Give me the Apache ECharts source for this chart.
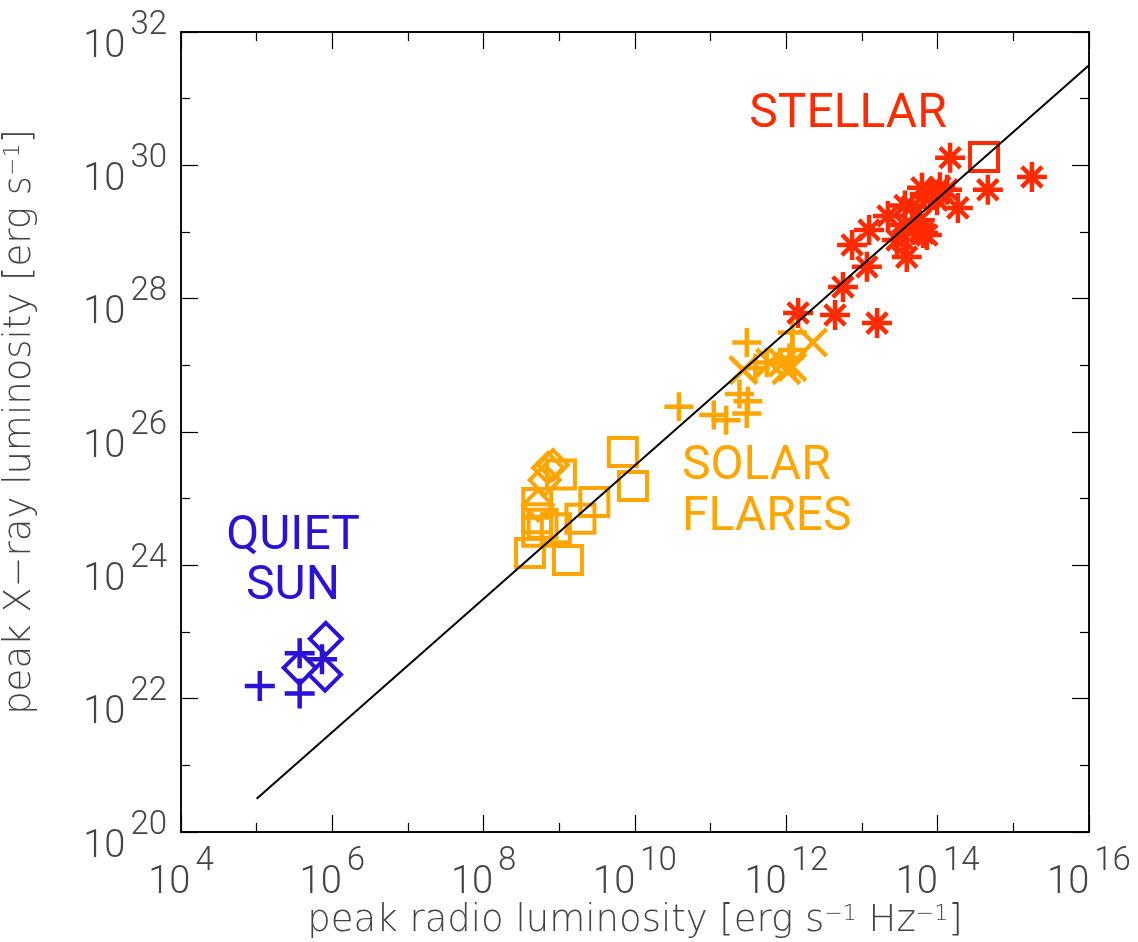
<!DOCTYPE html>
<html>
<head>
<meta charset="utf-8">
<script src="https://cdn.jsdelivr.net/npm/echarts@6/dist/echarts.min.js"></script>
<style>
html, body { margin: 0; padding: 0; background: #fff; }
#chart { width: 1138px; height: 942px; }
</style>
</head>
<body>
<div id="chart"></div>
<script>
// tick positions (decades)
const majorX = [1e4, 1e6, 1e8, 1e10, 1e12, 1e14, 1e16];
const minorX = [1e5, 1e7, 1e9, 1e11, 1e13, 1e15];
const majorY = [1e20, 1e22, 1e24, 1e26, 1e28, 1e30, 1e32];
const minorY = [1e21, 1e23, 1e25, 1e27, 1e29, 1e31];

// [radio, x-ray] peak luminosities
const quietPlus = [[1.1e5, 1.55e22], [3.7e5, 4.8e22], [3.7e5, 1.2e22], [7.3e5, 3.9e22]];
const quietDiamond = [[8.2e5, 7.9e22], [3.7e5, 2.9e22], [8.0e5, 2.3e22]];

const flareSquare = [[6.9e9, 5.0e25], [9.4e9, 1.55e25], [2.9e9, 8.9e24], [1.9e9, 5.0e24],
	[4.1e8, 1.53e24], [1.3e9, 1.2e24], [1.05e9, 2.3e25], [9.0e8, 3.6e24],
	[5.1e8, 8.6e24], [5.1e8, 5.1e24], [5.1e8, 3.2e24], [6.0e8, 4.2e24]];
const flareDiamond = [[7.1e8, 2.9e25], [6.4e8, 1.9e25], [5.2e8, 8.0e24], [8.2e8, 3.2e25]];
const flarePlus = [[3.0e11, 2.2e27], [3.8e10, 2.4e26], [1.1e11, 1.8e26], [1.6e11, 1.5e26],
	[2.4e11, 3.7e26], [3.1e11, 2.9e26], [3.0e11, 1.9e26], [1.2e12, 3.1e27],
	[1.2e12, 1.7e27], [3.9e11, 9.1e26], [5.5e11, 1.1e27], [1.1e12, 1.3e27]];
const flareCross = [[2.7e11, 8.5e26], [6.1e11, 1.1e27], [9.0e11, 1.1e27], [1.2e12, 9.4e26],
	[2.25e12, 2.2e27], [1.0e12, 8.5e26]];

const stellarStar = [[1.43e12, 6.1e27], [4.4e12, 5.7e27], [1.58e13, 4.3e27], [5.6e12, 1.5e28],
	[1.16e13, 3.0e28], [7.4e12, 6.4e28], [1.24e13, 1.07e29], [2.2e13, 1.74e29],
	[3.7e13, 2.5e29], [3.9e13, 4.2e28], [3.5e13, 7.6e28], [4.7e13, 1.07e29],
	[6.4e13, 9.7e28], [5.8e13, 1.5e29], [4.6e13, 2.4e29], [6.2e13, 4.6e29],
	[7.9e13, 3.35e29], [9.8e13, 3.0e29], [1.07e14, 4.7e29], [1.33e14, 4.3e29],
	[1.85e14, 2.3e29], [1.46e14, 1.3e30], [4.6e14, 4.3e29], [1.76e15, 6.7e29],
	[8.7e13, 3.6e29], [7.2e13, 9.0e28], [2.9e13, 7.6e28], [3.7e13, 1.27e29]];
const stellarSquare = [[4.1e14, 1.33e30]];

// L_X / L_R = 10^15.5
const relation = [[1e5, 3.16e20], [1e16, 3.16e31]];

const BLUE = '#2a12d6';
const ORANGE = '#ffa500';
const RED = '#ff2a00';
const FONT = 'Roboto, "Liberation Sans", sans-serif';
const TITLE_FONT = '"DejaVu Sans ExtraLight", "DejaVu Sans", sans-serif';
const GREY = '#444';

const PLUS = 'path://M5,0L5,10M0,5L10,5';
const CROSS = 'path://M0,0L10,10M10,0L0,10';
const STAR = 'path://M5,0L5,10M0,5L10,5M1.6,1.6L8.4,8.4M8.4,1.6L1.6,8.4';
const DIAMOND = 'path://M5,0L10,5L5,10L0,5Z';
const SQUARE = 'path://M0,0L10,0L10,10L0,10Z';

function powLabel(v) {
	return '{b|10}{s|' + Math.round(Math.log10(v)) + '}';
}
const labelRich = {
	b: { fontSize: 38, fontFamily: FONT, fontWeight: 300, color: GREY, lineHeight: 46, verticalAlign: 'bottom' },
	s: { fontSize: 33, fontFamily: FONT, fontWeight: 300, color: GREY, lineHeight: 30, verticalAlign: 'bottom', padding: [0, 0, 24, 5] }
};
const nameRich = {
	s: { fontSize: 22, fontFamily: TITLE_FONT, fontWeight: 200, color: GREY, lineHeight: 12, verticalAlign: 'top' }
};

function axis(dir, pos, ticks, len, main) {
	const a = {
		type: 'log',
		logBase: 10,
		position: pos,
		min: dir === 'x' ? 1e4 : 1e20,
		max: dir === 'x' ? 1e16 : 1e32,
		splitLine: { show: false },
		axisLine: { show: true, onZero: false, lineStyle: { color: '#000', width: 1.5 } },
		axisTick: { show: true, inside: true, length: len, customValues: ticks, lineStyle: { color: '#000', width: 1.2 } },
		axisLabel: { show: false }
	};
	if (main) {
		a.axisLabel = {
			show: true,
			customValues: ticks,
			formatter: powLabel,
			rich: labelRich,
			margin: dir === 'x' ? 24 : 14,
			padding: dir === 'x' ? 0 : [22, 0, 0, 0]
		};
	}
	return a;
}

const chart = echarts.init(document.getElementById('chart'));

const xMain = axis('x', 'bottom', majorX, 17, true);
xMain.name = 'peak radio luminosity [erg s{s|−1} Hz{s|−1}]';
xMain.nameLocation = 'middle';
xMain.nameGap = 71;
xMain.nameMoveOverlap = false;
xMain.nameTextStyle = { fontSize: 37, fontFamily: TITLE_FONT, fontWeight: 200, color: GREY, rich: nameRich };

const yMain = axis('y', 'left', majorY, 17, true);
yMain.name = 'peak X−ray luminosity [erg s{s|−1}]';
yMain.nameLocation = 'middle';
yMain.nameGap = 142;
yMain.nameTextStyle = { fontSize: 37, fontFamily: TITLE_FONT, fontWeight: 200, color: GREY, rich: nameRich, padding: [0, 0, 0, 20] };

function marks(name, data, symbol, size, color, width) {
	return {
		name: name,
		type: 'scatter',
		data: data,
		symbol: symbol,
		symbolSize: size,
		silent: true,
		itemStyle: { color: 'rgba(0,0,0,0)', borderColor: color, borderWidth: width, opacity: 1 }
	};
}

chart.setOption({
	animation: false,
	grid: { left: 181, top: 32, width: 908, height: 800, containLabel: false, outerBoundsMode: 'none' },
	xAxis: [
		xMain,
		axis('x', 'bottom', minorX, 9, false),
		axis('x', 'top', majorX, 17, false),
		axis('x', 'top', minorX, 9, false)
	],
	yAxis: [
		yMain,
		axis('y', 'left', minorY, 9, false),
		axis('y', 'right', majorY, 17, false),
		axis('y', 'right', minorY, 9, false)
	],
	series: [
		marks('quiet +', quietPlus, PLUS, 30, BLUE, 4.5),
		marks('quiet diamond', quietDiamond, DIAMOND, 32, BLUE, 4),
		marks('flare square', flareSquare, SQUARE, 28, ORANGE, 4),
		marks('flare diamond', flareDiamond, DIAMOND, 30, ORANGE, 4),
		marks('flare +', flarePlus, PLUS, 29, ORANGE, 4.5),
		marks('flare x', flareCross, CROSS, 27, ORANGE, 4.5),
		marks('stellar *', stellarStar, STAR, 30, RED, 4.5),
		marks('stellar square', stellarSquare, SQUARE, 28, RED, 4),
		{
			type: 'line',
			data: relation,
			symbol: 'none',
			silent: true,
			z: 5,
			lineStyle: { color: '#000', width: 2 }
		}
	],
	graphic: [
		{ type: 'text', x: 848, y: 115, style: { text: 'STELLAR', fill: RED, fontSize: 48, fontFamily: FONT, textAlign: 'center', textVerticalAlign: 'middle' } },
		{ type: 'text', x: 682, y: 492, style: { text: 'SOLAR\nFLARES', fill: ORANGE, fontSize: 48, fontFamily: FONT, lineHeight: 51, textAlign: 'left', textVerticalAlign: 'middle' } },
		{ type: 'text', x: 293, y: 562, style: { text: 'QUIET\nSUN', fill: BLUE, fontSize: 48, fontFamily: FONT, lineHeight: 50, textAlign: 'center', textVerticalAlign: 'middle' } }
	]
});
</script>
</body>
</html>
